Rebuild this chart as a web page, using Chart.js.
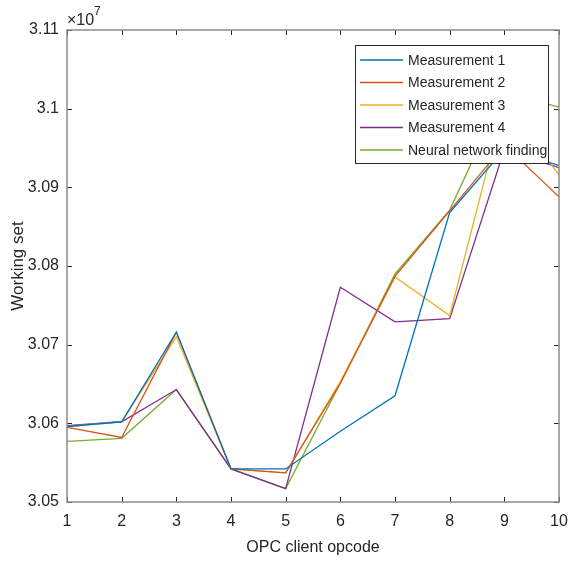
<!DOCTYPE html>
<html>
<head>
<meta charset="utf-8">
<script src="https://cdn.jsdelivr.net/npm/chart.js@4.4.1/dist/chart.umd.min.js"></script>
<style>
    html, body { margin: 0; padding: 0; background: #fff; }
    #wrap { width: 568px; height: 561px; }
</style>
</head>
<body>
<div id="wrap"><canvas id="wsChart" width="568" height="561"></canvas></div>
<script>
// OPC client opcode on x, working set (bytes) on y
const opcodes = [1, 2, 3, 4, 5, 6, 7, 8, 9, 10];
const measurement1 = [30596000, 30602000, 30716000, 30542000, 30542000, 30590000, 30635000, 30868000, 30948000, 30928000];
const measurement2 = [30595000, 30582000, 30716000, 30542000, 30537000, 30651000, 30787000, 30870000, 30954000, 30888000];
const measurement3 = [30596000, 30602000, 30710000, 30542000, 30537000, 30653000, 30786000, 30737000, 31008000, 30916000];
const measurement4 = [30597000, 30602000, 30643000, 30542000, 30517000, 30773000, 30729000, 30733000, 30948000, 30925000];
const neuralNet = [30577000, 30581000, 30643000, 30542000, 30517000, 30651000, 30790000, 30871000, 31021000, 31002000];
const seriesNames = ['Measurement 1', 'Measurement 2', 'Measurement 3', 'Measurement 4', 'Neural network finding'];
const seriesColors = ['#0072BD', '#D95319', '#EDB120', '#7E2F8E', '#77AC30'];
const yTicks = [30500000, 30600000, 30700000, 30800000, 30900000, 31000000, 31100000];

const FONT = '"Liberation Sans", Arial, sans-serif';

function toPoints(vals) {
    return vals.map(function(v, i) { return { x: opcodes[i], y: v } })
}

const allSeries = [measurement1, measurement2, measurement3, measurement4, neuralNet];
const datasets = allSeries.map(function(vals, i) {
    return {
        label: seriesNames[i],
        data: toPoints(vals),
        borderColor: seriesColors[i],
        backgroundColor: seriesColors[i],
        borderWidth: 1.3,
        pointRadius: 0,
        tension: 0
    }
});

// MATLAB style box, inward ticks, exponent and legend
const matlabAxes = {
    id: 'matlabAxes',
    afterDatasetsDraw(chart) {
        const ctx = chart.ctx;
        const a = chart.chartArea;
        const xs = chart.scales.x, ys = chart.scales.y;
        ctx.save();
        ctx.strokeStyle = '#262626';
        ctx.lineWidth = 1;
        ctx.beginPath();
        opcodes.forEach(function(v) {
            const px = Math.round(xs.getPixelForValue(v)) + 0.5;
            ctx.moveTo(px, a.bottom); ctx.lineTo(px, a.bottom - 5);
            ctx.moveTo(px, a.top); ctx.lineTo(px, a.top + 5);
        });
        yTicks.forEach(function(v) {
            const py = Math.round(ys.getPixelForValue(v)) + 0.5;
            ctx.moveTo(a.left, py); ctx.lineTo(a.left + 5, py);
            ctx.moveTo(a.right, py); ctx.lineTo(a.right - 5, py);
        });
        ctx.stroke();

        ctx.strokeStyle = '#8c8c8c';
        ctx.lineWidth = 1.5;
        ctx.strokeRect(a.left, a.top, a.right - a.left, a.bottom - a.top);

        // exponent label
        ctx.fillStyle = '#262626';
        ctx.textBaseline = 'alphabetic';
        ctx.textAlign = 'left';
        ctx.font = '16px ' + FONT;
        ctx.fillText('\u00d710', a.left, a.top - 5);
        ctx.font = '12px ' + FONT;
        ctx.fillText('7', a.left + 27, a.top - 15);

        // legend
        const lx = 355, ly = 45, lw = 193, lh = 118;
        ctx.fillStyle = '#ffffff';
        ctx.fillRect(lx, ly, lw, lh);
        ctx.strokeStyle = '#262626';
        ctx.lineWidth = 1;
        ctx.strokeRect(lx + 0.5, ly + 0.5, lw, lh);
        ctx.font = '14px ' + FONT;
        ctx.textBaseline = 'middle';
        seriesNames.forEach(function(name, i) {
            const yy = ly + 15 + i * 22.5;
            ctx.strokeStyle = seriesColors[i];
            ctx.lineWidth = 1.3;
            ctx.beginPath();
            ctx.moveTo(lx + 5, yy);
            ctx.lineTo(lx + 48, yy);
            ctx.stroke();
            ctx.fillStyle = '#262626';
            ctx.fillText(name, lx + 53, yy + 1);
        });
        ctx.restore();
    }
};

const ctx = document.getElementById('wsChart').getContext('2d');
const myChart = new Chart(ctx, {
    type: 'line',
    data: { datasets: datasets },
    options: {
        responsive: false,
        animation: false,
        layout: { padding: { top: 30, right: 9, left: 0, bottom: 0 } },
        plugins: {
            legend: { display: false },
            tooltip: { enabled: false }
        },
        scales: {
            x: {
                type: 'linear',
                min: 1,
                max: 10,
                afterFit: function(scale) {
                    scale.height = 59
                    scale.paddingLeft = 0
                    scale.paddingRight = 0
                },
                ticks: {
                    stepSize: 1,
                    color: '#262626',
                    font: { family: FONT, size: 16 },
                    padding: 10,
                    maxRotation: 0
                },
                grid: { display: false, drawTicks: false },
                border: { display: false },
                title: {
                    display: true,
                    text: 'OPC client opcode',
                    color: '#262626',
                    font: { family: FONT, size: 16 },
                    padding: { top: 0 }
                }
            },
            y: {
                type: 'linear',
                min: 30500000,
                max: 31100000,
                afterFit: function(scale) {
                    scale.width = 67
                    scale.paddingTop = 0
                    scale.paddingBottom = 0
                },
                afterBuildTicks: function(scale) {
                    scale.ticks = yTicks.map(function(v) { return { value: v } })
                },
                ticks: {
                    color: '#262626',
                    font: { family: FONT, size: 16 },
                    padding: 8,
                    callback: function(v) { return String(parseFloat((v / 1e7).toFixed(3))) }
                },
                grid: { display: false, drawTicks: false },
                border: { display: false },
                title: {
                    display: true,
                    text: 'Working set',
                    color: '#262626',
                    font: { family: FONT, size: 17 },
                    padding: { top: 8, bottom: 4 }
                }
            }
        }
    },
    plugins: [matlabAxes]
});
</script>
</body>
</html>
